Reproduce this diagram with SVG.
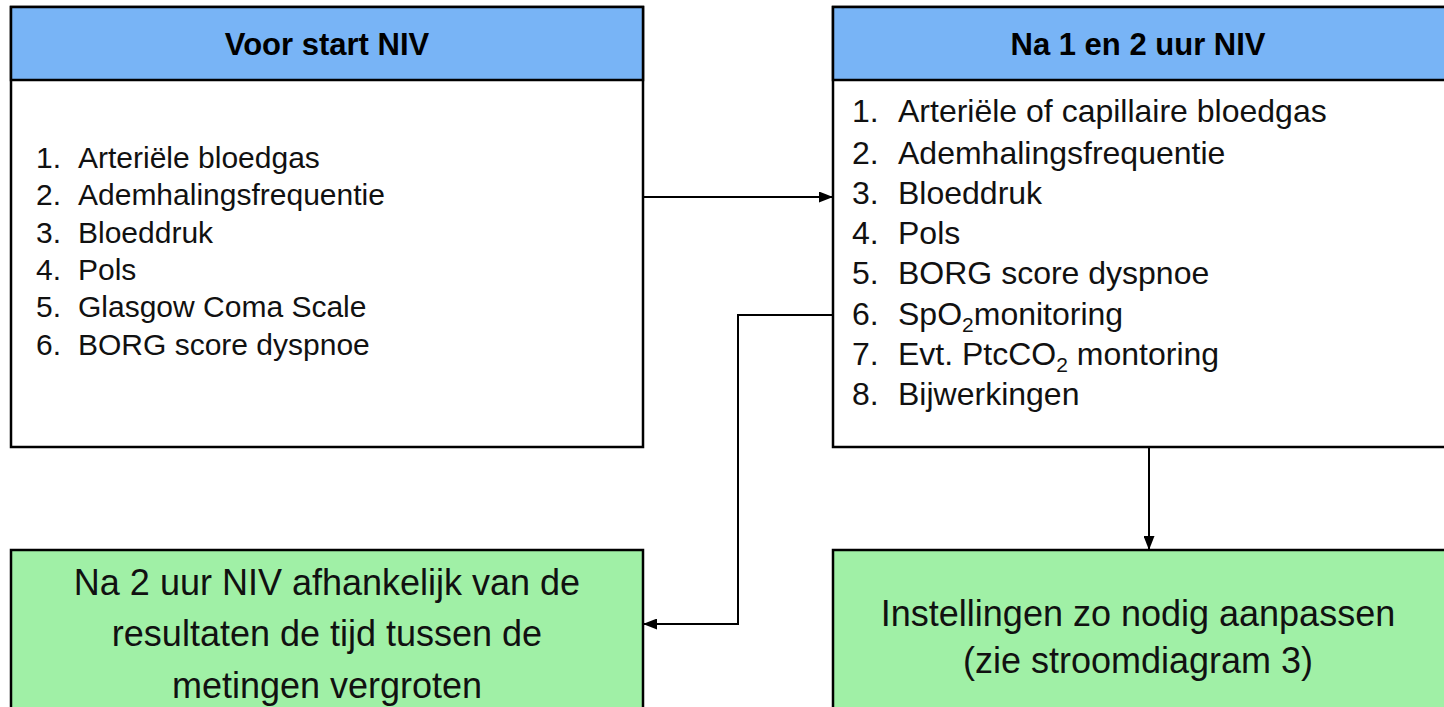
<svg xmlns="http://www.w3.org/2000/svg" width="1444" height="707" viewBox="0 0 1444 707">
<defs>
<marker id="arr" viewBox="0 0 14 11" refX="14" refY="5.5" markerWidth="14" markerHeight="11" markerUnits="userSpaceOnUse" orient="auto">
<path d="M0,0 L14,5.5 L0,11 Z" fill="#000"/>
</marker>
<style>
.box{fill:#fff;stroke:#000;stroke-width:2.5}
.hdr{fill:#78B4F6;stroke:#000;stroke-width:2.5}
.grn{fill:#A0F0A6;stroke:#000;stroke-width:2.5}
.ht{font-family:"Liberation Sans",Arial,sans-serif;font-weight:bold;font-size:31px;fill:#000;text-anchor:middle}
.li{font-family:"Liberation Sans",Arial,sans-serif;font-size:30px;fill:#111}
.lr{font-family:"Liberation Sans",Arial,sans-serif;font-size:32px;fill:#111}
.gt{font-family:"Liberation Sans",Arial,sans-serif;font-size:36px;fill:#111;text-anchor:middle}
.con{fill:none;stroke:#000;stroke-width:2}
</style>
</defs>
<rect width="1444" height="707" fill="#fff"/>
<g id="voor-start">
<rect class="box" x="11" y="7" width="632" height="440"/>
<rect class="hdr" x="11" y="7" width="632" height="73"/>
<text class="ht" x="327" y="55">Voor start NIV</text>
<text class="li" y="168"><tspan x="36">1.</tspan><tspan x="78">Arteriële bloedgas</tspan></text>
<text class="li" y="205"><tspan x="36">2.</tspan><tspan x="78">Ademhalingsfrequentie</tspan></text>
<text class="li" y="243"><tspan x="36">3.</tspan><tspan x="78">Bloeddruk</tspan></text>
<text class="li" y="280"><tspan x="36">4.</tspan><tspan x="78">Pols</tspan></text>
<text class="li" y="317"><tspan x="36">5.</tspan><tspan x="78">Glasgow Coma Scale</tspan></text>
<text class="li" y="355"><tspan x="36">6.</tspan><tspan x="78">BORG score dyspnoe</tspan></text>
</g>
<g id="na-1-en-2-uur">
<rect class="box" x="833" y="7" width="620" height="440"/>
<rect class="hdr" x="833" y="7" width="620" height="73"/>
<text class="ht" x="1138" y="55">Na 1 en 2 uur NIV</text>
<text class="lr" y="122"><tspan x="852">1.</tspan><tspan x="898">Arteriële of capillaire bloedgas</tspan></text>
<text class="lr" y="164"><tspan x="852">2.</tspan><tspan x="898">Ademhalingsfrequentie</tspan></text>
<text class="lr" y="204"><tspan x="852">3.</tspan><tspan x="898">Bloeddruk</tspan></text>
<text class="lr" y="244"><tspan x="852">4.</tspan><tspan x="898">Pols</tspan></text>
<text class="lr" y="284"><tspan x="852">5.</tspan><tspan x="898">BORG score dyspnoe</tspan></text>
<text class="lr" y="325"><tspan x="852">6.</tspan><tspan x="898">SpO</tspan><tspan font-size="21" dy="7">2</tspan><tspan dy="-7">monitoring</tspan></text>
<text class="lr" y="365"><tspan x="852">7.</tspan><tspan x="898">Evt. PtcCO</tspan><tspan font-size="21" dy="7">2</tspan><tspan dy="-7"> montoring</tspan></text>
<text class="lr" y="405"><tspan x="852">8.</tspan><tspan x="898">Bijwerkingen</tspan></text>
</g>
<g id="na-2-uur">
<rect class="grn" x="11" y="550" width="632" height="170"/>
<text class="gt" x="327" y="595">Na 2 uur NIV afhankelijk van de</text>
<text class="gt" x="327" y="646">resultaten de tijd tussen de</text>
<text class="gt" x="327" y="698">metingen vergroten</text>
</g>
<g id="instellingen">
<rect class="grn" x="833" y="550" width="620" height="170"/>
<text class="gt" x="1138" y="626">Instellingen zo nodig aanpassen</text>
<text class="gt" x="1138" y="673">(zie stroomdiagram 3)</text>
</g>
<g id="connectors">
<path class="con" d="M643,197 H833" marker-end="url(#arr)"/>
<path class="con" d="M1149,447 V550" marker-end="url(#arr)"/>
<path class="con" d="M833,315 H738 V624 H643" marker-end="url(#arr)"/>
</g>
</svg>
